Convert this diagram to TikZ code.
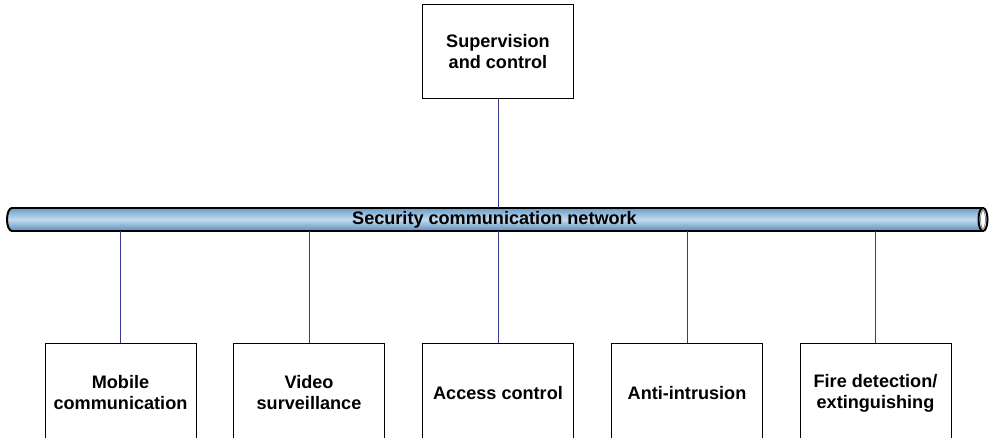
\documentclass[tikz,border=0pt]{standalone}
\usepackage{fontspec}
\setmainfont{Liberation Sans}
\definecolor{linkc}{HTML}{3A3A8E}
\definecolor{pipetop}{HTML}{6A9DCB}
\definecolor{pipemid}{HTML}{C4DAEE}
\definecolor{pipebot}{HTML}{5A8CBE}
\tikzset{
  lbl/.style={font=\fontsize{18.1}{21}\selectfont\bfseries},
  box/.style={draw=black, line width=1pt, fill=white, minimum width=151pt, minimum height=94pt,
    inner sep=0pt, align=center, lbl},
  link/.style={draw=linkc, line width=0.9pt},
  pipeshade/.style={top color=pipetop, bottom color=pipebot, middle color=pipemid},
}
\begin{document}
\begin{tikzpicture}[x=1pt,y=-1pt]
\useasboundingbox (0,0) rectangle (989,438);
\clip (0,0) rectangle (989,438);
% network node (invisible, spans the pipe)
\node[minimum width=976pt, minimum height=23pt, inner sep=0pt] (net) at (497,219.5) {};
% pipe body
\shade[pipeshade] (12,208) rectangle (983,231);
\shade[pipeshade] (12,219.5) ellipse [x radius=5, y radius=11.5];
\begin{scope}
  \clip (0,200) rectangle (12,240);
  \draw[line width=2pt] (12,219.5) ellipse [x radius=5, y radius=11.5];
\end{scope}
\draw[line width=2pt] (12,208) -- (983,208);
\draw[line width=2pt] (12,231) -- (983,231);
\draw[line width=2pt, fill=white] (983,219.5) ellipse [x radius=4.5, y radius=11.5];
\draw[line width=0.5pt, draw=black!70, fill=white] (983,219.5) ellipse [x radius=2.4, y radius=9];
\node[lbl, inner sep=0pt] (netlabel) at (494.5,219.5) {Security communication network};
% top box
\node[box] (sup) at (498,52) {Supervision\\and control};
% bottom boxes
\node[box, minimum height=98pt] (mob) at (120.5,393) {Mobile\\communication};
\node[box, minimum height=98pt] (vid) at (309,393) {Video\\surveillance};
\node[box, minimum height=98pt] (acc) at (498,393) {Access control};
\node[box, minimum height=98pt] (ant) at (687,393) {Anti-intrusion};
\node[box, minimum height=98pt] (fire) at (875.5,393) {Fire detection/\\extinguishing};
% connectors
\draw[link] (sup.south) -- (sup.south |- net.north);
\foreach \b in {mob,vid,acc,ant,fire}
  \draw[link] (\b.north) -- (\b.north |- net.south);
\end{tikzpicture}
\end{document}
